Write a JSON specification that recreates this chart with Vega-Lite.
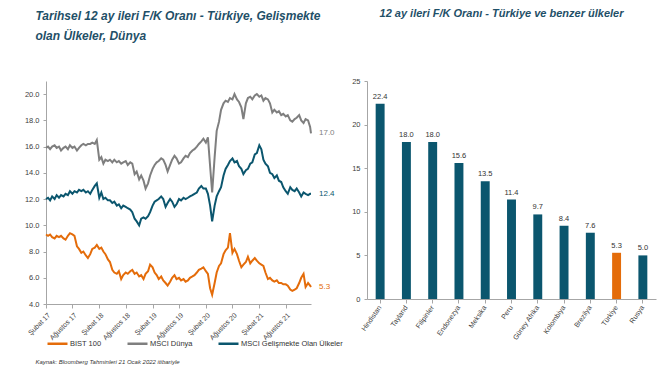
{
  "$schema": "https://vega.github.io/schema/vega-lite/v6.json",
  "padding": {"left": 24, "top": 8, "right": 6, "bottom": 2},
  "background": "white",
  "config": {
    "view": {"stroke": null},
    "font": "Liberation Sans",
    "axis": {"labelFont": "Liberation Sans", "labelFontSize": 7.5, "labelColor": "#404040", "domainColor": "#a6a6a6", "tickColor": "#a6a6a6", "grid": false, "title": null},
    "title": {"font": "Liberation Sans", "fontSize": 12, "fontWeight": "bold", "fontStyle": "italic", "color": "#1f5068"}
  },
  "title": {"text": "Kaynak: Bloomberg Tahminleri 21 Ocak 2022  itibariyle", "orient": "bottom", "anchor": "start", "fontSize": 6, "fontWeight": "normal", "fontStyle": "italic", "color": "#333333", "offset": 10, "dx": 11},
  "datasets": {
    "seri": [
      {"d":"2017-02-01","BIST 100":9.3,"MSCI Dünya":15.9,"MSCI Gelişmekte Olan Ülkeler":12.0},
      {"d":"2017-02-15","BIST 100":9.2,"MSCI Dünya":16.0,"MSCI Gelişmekte Olan Ülkeler":12.1},
      {"d":"2017-03-01","BIST 100":9.3,"MSCI Dünya":15.8,"MSCI Gelişmekte Olan Ülkeler":11.9},
      {"d":"2017-03-15","BIST 100":9.1,"MSCI Dünya":16.0,"MSCI Gelişmekte Olan Ülkeler":12.2},
      {"d":"2017-04-01","BIST 100":9.0,"MSCI Dünya":16.1,"MSCI Gelişmekte Olan Ülkeler":12.0},
      {"d":"2017-04-15","BIST 100":9.2,"MSCI Dünya":15.9,"MSCI Gelişmekte Olan Ülkeler":12.3},
      {"d":"2017-05-01","BIST 100":9.1,"MSCI Dünya":16.0,"MSCI Gelişmekte Olan Ülkeler":12.1},
      {"d":"2017-05-15","BIST 100":9.2,"MSCI Dünya":15.7,"MSCI Gelişmekte Olan Ülkeler":12.3},
      {"d":"2017-06-01","BIST 100":9.0,"MSCI Dünya":15.9,"MSCI Gelişmekte Olan Ülkeler":12.2},
      {"d":"2017-06-15","BIST 100":8.9,"MSCI Dünya":16.0,"MSCI Gelişmekte Olan Ülkeler":12.4},
      {"d":"2017-07-01","BIST 100":9.2,"MSCI Dünya":15.8,"MSCI Gelişmekte Olan Ülkeler":12.3},
      {"d":"2017-07-15","BIST 100":9.4,"MSCI Dünya":16.1,"MSCI Gelişmekte Olan Ülkeler":12.6},
      {"d":"2017-08-01","BIST 100":9.3,"MSCI Dünya":15.9,"MSCI Gelişmekte Olan Ülkeler":12.4},
      {"d":"2017-08-15","BIST 100":9.2,"MSCI Dünya":16.0,"MSCI Gelişmekte Olan Ülkeler":12.6},
      {"d":"2017-09-01","BIST 100":8.4,"MSCI Dünya":15.7,"MSCI Gelişmekte Olan Ülkeler":12.5},
      {"d":"2017-09-15","BIST 100":8.2,"MSCI Dünya":15.9,"MSCI Gelişmekte Olan Ülkeler":12.7},
      {"d":"2017-10-01","BIST 100":7.9,"MSCI Dünya":16.1,"MSCI Gelişmekte Olan Ülkeler":12.6},
      {"d":"2017-10-15","BIST 100":8.0,"MSCI Dünya":16.2,"MSCI Gelişmekte Olan Ülkeler":12.7},
      {"d":"2017-11-01","BIST 100":7.7,"MSCI Dünya":16.1,"MSCI Gelişmekte Olan Ülkeler":12.5},
      {"d":"2017-11-15","BIST 100":7.5,"MSCI Dünya":16.2,"MSCI Gelişmekte Olan Ülkeler":12.6},
      {"d":"2017-12-01","BIST 100":7.8,"MSCI Dünya":16.2,"MSCI Gelişmekte Olan Ülkeler":12.4},
      {"d":"2017-12-15","BIST 100":8.2,"MSCI Dünya":16.3,"MSCI Gelişmekte Olan Ülkeler":12.7},
      {"d":"2018-01-01","BIST 100":8.3,"MSCI Dünya":16.2,"MSCI Gelişmekte Olan Ülkeler":13.0},
      {"d":"2018-01-15","BIST 100":8.5,"MSCI Dünya":16.5,"MSCI Gelişmekte Olan Ülkeler":13.2},
      {"d":"2018-02-01","BIST 100":8.2,"MSCI Dünya":15.0,"MSCI Gelişmekte Olan Ülkeler":12.1},
      {"d":"2018-02-15","BIST 100":8.3,"MSCI Dünya":15.2,"MSCI Gelişmekte Olan Ülkeler":12.5},
      {"d":"2018-03-01","BIST 100":8.0,"MSCI Dünya":14.7,"MSCI Gelişmekte Olan Ülkeler":12.0},
      {"d":"2018-03-15","BIST 100":7.8,"MSCI Dünya":15.0,"MSCI Gelişmekte Olan Ülkeler":12.1},
      {"d":"2018-04-01","BIST 100":7.4,"MSCI Dünya":14.9,"MSCI Gelişmekte Olan Ülkeler":11.9},
      {"d":"2018-04-15","BIST 100":7.2,"MSCI Dünya":15.0,"MSCI Gelişmekte Olan Ülkeler":11.9},
      {"d":"2018-05-01","BIST 100":6.6,"MSCI Dünya":14.8,"MSCI Gelişmekte Olan Ülkeler":11.7},
      {"d":"2018-05-15","BIST 100":6.4,"MSCI Dünya":15.0,"MSCI Gelişmekte Olan Ülkeler":11.8},
      {"d":"2018-06-01","BIST 100":6.3,"MSCI Dünya":14.8,"MSCI Gelişmekte Olan Ülkeler":11.5},
      {"d":"2018-06-15","BIST 100":6.5,"MSCI Dünya":14.9,"MSCI Gelişmekte Olan Ülkeler":11.6},
      {"d":"2018-07-01","BIST 100":5.9,"MSCI Dünya":14.7,"MSCI Gelişmekte Olan Ülkeler":11.3},
      {"d":"2018-07-15","BIST 100":6.2,"MSCI Dünya":14.8,"MSCI Gelişmekte Olan Ülkeler":11.5},
      {"d":"2018-08-01","BIST 100":6.4,"MSCI Dünya":14.9,"MSCI Gelişmekte Olan Ülkeler":11.4},
      {"d":"2018-08-15","BIST 100":6.3,"MSCI Dünya":14.6,"MSCI Gelişmekte Olan Ülkeler":11.3},
      {"d":"2018-09-01","BIST 100":6.5,"MSCI Dünya":14.8,"MSCI Gelişmekte Olan Ülkeler":11.2},
      {"d":"2018-09-15","BIST 100":6.6,"MSCI Dünya":14.7,"MSCI Gelişmekte Olan Ülkeler":11.0},
      {"d":"2018-10-01","BIST 100":6.3,"MSCI Dünya":13.9,"MSCI Gelişmekte Olan Ülkeler":10.5},
      {"d":"2018-10-15","BIST 100":6.4,"MSCI Dünya":14.1,"MSCI Gelişmekte Olan Ülkeler":10.3},
      {"d":"2018-11-01","BIST 100":6.1,"MSCI Dünya":13.5,"MSCI Gelişmekte Olan Ülkeler":10.0},
      {"d":"2018-11-15","BIST 100":6.2,"MSCI Dünya":13.8,"MSCI Gelişmekte Olan Ülkeler":10.5},
      {"d":"2018-12-01","BIST 100":5.9,"MSCI Dünya":13.4,"MSCI Gelişmekte Olan Ülkeler":10.6},
      {"d":"2018-12-15","BIST 100":6.3,"MSCI Dünya":12.8,"MSCI Gelişmekte Olan Ülkeler":10.5},
      {"d":"2019-01-01","BIST 100":6.5,"MSCI Dünya":13.2,"MSCI Gelişmekte Olan Ülkeler":10.7},
      {"d":"2019-01-15","BIST 100":7.0,"MSCI Dünya":13.8,"MSCI Gelişmekte Olan Ülkeler":11.0},
      {"d":"2019-02-01","BIST 100":6.8,"MSCI Dünya":14.3,"MSCI Gelişmekte Olan Ülkeler":11.5},
      {"d":"2019-02-15","BIST 100":6.4,"MSCI Dünya":14.6,"MSCI Gelişmekte Olan Ülkeler":11.8},
      {"d":"2019-03-01","BIST 100":6.2,"MSCI Dünya":14.8,"MSCI Gelişmekte Olan Ülkeler":11.9},
      {"d":"2019-03-15","BIST 100":5.9,"MSCI Dünya":14.9,"MSCI Gelişmekte Olan Ülkeler":12.0},
      {"d":"2019-04-01","BIST 100":6.1,"MSCI Dünya":15.1,"MSCI Gelişmekte Olan Ülkeler":12.2},
      {"d":"2019-04-15","BIST 100":5.8,"MSCI Dünya":15.0,"MSCI Gelişmekte Olan Ülkeler":12.0},
      {"d":"2019-05-01","BIST 100":5.6,"MSCI Dünya":14.6,"MSCI Gelişmekte Olan Ülkeler":11.4},
      {"d":"2019-05-15","BIST 100":5.4,"MSCI Dünya":14.1,"MSCI Gelişmekte Olan Ülkeler":11.7},
      {"d":"2019-06-01","BIST 100":5.7,"MSCI Dünya":14.6,"MSCI Gelişmekte Olan Ülkeler":12.0},
      {"d":"2019-06-15","BIST 100":6.0,"MSCI Dünya":15.0,"MSCI Gelişmekte Olan Ülkeler":11.8},
      {"d":"2019-07-01","BIST 100":6.2,"MSCI Dünya":15.3,"MSCI Gelişmekte Olan Ülkeler":11.4},
      {"d":"2019-07-15","BIST 100":5.9,"MSCI Dünya":15.1,"MSCI Gelişmekte Olan Ülkeler":11.6},
      {"d":"2019-08-01","BIST 100":6.0,"MSCI Dünya":14.7,"MSCI Gelişmekte Olan Ülkeler":12.0},
      {"d":"2019-08-15","BIST 100":5.8,"MSCI Dünya":14.8,"MSCI Gelişmekte Olan Ülkeler":11.9},
      {"d":"2019-09-01","BIST 100":5.9,"MSCI Dünya":15.1,"MSCI Gelişmekte Olan Ülkeler":12.1},
      {"d":"2019-09-15","BIST 100":5.7,"MSCI Dünya":15.3,"MSCI Gelişmekte Olan Ülkeler":12.0},
      {"d":"2019-10-01","BIST 100":5.8,"MSCI Dünya":15.2,"MSCI Gelişmekte Olan Ülkeler":12.1},
      {"d":"2019-10-15","BIST 100":6.0,"MSCI Dünya":15.5,"MSCI Gelişmekte Olan Ülkeler":12.2},
      {"d":"2019-11-01","BIST 100":6.1,"MSCI Dünya":15.7,"MSCI Gelişmekte Olan Ülkeler":12.3},
      {"d":"2019-11-15","BIST 100":6.2,"MSCI Dünya":15.8,"MSCI Gelişmekte Olan Ülkeler":12.4},
      {"d":"2019-12-01","BIST 100":6.4,"MSCI Dünya":16.0,"MSCI Gelişmekte Olan Ülkeler":12.5},
      {"d":"2019-12-15","BIST 100":6.6,"MSCI Dünya":16.2,"MSCI Gelişmekte Olan Ülkeler":12.8},
      {"d":"2020-01-01","BIST 100":6.7,"MSCI Dünya":16.4,"MSCI Gelişmekte Olan Ülkeler":13.0},
      {"d":"2020-01-15","BIST 100":6.8,"MSCI Dünya":16.6,"MSCI Gelişmekte Olan Ülkeler":12.8},
      {"d":"2020-02-01","BIST 100":6.5,"MSCI Dünya":16.3,"MSCI Gelişmekte Olan Ülkeler":12.8},
      {"d":"2020-02-15","BIST 100":6.3,"MSCI Dünya":16.7,"MSCI Gelişmekte Olan Ülkeler":12.4},
      {"d":"2020-03-01","BIST 100":5.2,"MSCI Dünya":14.5,"MSCI Gelişmekte Olan Ülkeler":11.5},
      {"d":"2020-03-15","BIST 100":4.7,"MSCI Dünya":12.5,"MSCI Gelişmekte Olan Ülkeler":10.3},
      {"d":"2020-04-01","BIST 100":5.6,"MSCI Dünya":15.2,"MSCI Gelişmekte Olan Ülkeler":11.5},
      {"d":"2020-04-15","BIST 100":6.4,"MSCI Dünya":17.2,"MSCI Gelişmekte Olan Ülkeler":12.2},
      {"d":"2020-05-01","BIST 100":6.9,"MSCI Dünya":17.9,"MSCI Gelişmekte Olan Ülkeler":12.6},
      {"d":"2020-05-15","BIST 100":7.1,"MSCI Dünya":18.8,"MSCI Gelişmekte Olan Ülkeler":12.9},
      {"d":"2020-06-01","BIST 100":7.8,"MSCI Dünya":19.3,"MSCI Gelişmekte Olan Ülkeler":13.8},
      {"d":"2020-06-15","BIST 100":8.1,"MSCI Dünya":19.5,"MSCI Gelişmekte Olan Ülkeler":14.3},
      {"d":"2020-07-01","BIST 100":8.3,"MSCI Dünya":19.4,"MSCI Gelişmekte Olan Ülkeler":14.6},
      {"d":"2020-07-15","BIST 100":9.4,"MSCI Dünya":19.7,"MSCI Gelişmekte Olan Ülkeler":14.9},
      {"d":"2020-08-01","BIST 100":7.9,"MSCI Dünya":19.6,"MSCI Gelişmekte Olan Ülkeler":15.1},
      {"d":"2020-08-15","BIST 100":8.2,"MSCI Dünya":20.0,"MSCI Gelişmekte Olan Ülkeler":14.8},
      {"d":"2020-09-01","BIST 100":7.8,"MSCI Dünya":19.6,"MSCI Gelişmekte Olan Ülkeler":14.9},
      {"d":"2020-09-15","BIST 100":7.3,"MSCI Dünya":19.4,"MSCI Gelişmekte Olan Ülkeler":14.5},
      {"d":"2020-10-01","BIST 100":6.8,"MSCI Dünya":19.0,"MSCI Gelişmekte Olan Ülkeler":14.3},
      {"d":"2020-10-15","BIST 100":7.0,"MSCI Dünya":18.1,"MSCI Gelişmekte Olan Ülkeler":13.9},
      {"d":"2020-11-01","BIST 100":7.2,"MSCI Dünya":19.3,"MSCI Gelişmekte Olan Ülkeler":14.2},
      {"d":"2020-11-15","BIST 100":7.6,"MSCI Dünya":19.7,"MSCI Gelişmekte Olan Ülkeler":14.3},
      {"d":"2020-12-01","BIST 100":7.1,"MSCI Dünya":19.8,"MSCI Gelişmekte Olan Ülkeler":14.7},
      {"d":"2020-12-15","BIST 100":7.3,"MSCI Dünya":19.6,"MSCI Gelişmekte Olan Ülkeler":14.8},
      {"d":"2021-01-01","BIST 100":7.5,"MSCI Dünya":19.9,"MSCI Gelişmekte Olan Ülkeler":15.4},
      {"d":"2021-01-15","BIST 100":7.3,"MSCI Dünya":20.0,"MSCI Gelişmekte Olan Ülkeler":15.5},
      {"d":"2021-02-01","BIST 100":7.1,"MSCI Dünya":19.8,"MSCI Gelişmekte Olan Ülkeler":16.1},
      {"d":"2021-02-15","BIST 100":7.0,"MSCI Dünya":19.9,"MSCI Gelişmekte Olan Ülkeler":15.8},
      {"d":"2021-03-01","BIST 100":6.9,"MSCI Dünya":19.5,"MSCI Gelişmekte Olan Ülkeler":15.0},
      {"d":"2021-03-15","BIST 100":6.4,"MSCI Dünya":19.7,"MSCI Gelişmekte Olan Ülkeler":14.7},
      {"d":"2021-04-01","BIST 100":5.9,"MSCI Dünya":19.6,"MSCI Gelişmekte Olan Ülkeler":14.5},
      {"d":"2021-04-15","BIST 100":6.0,"MSCI Dünya":19.3,"MSCI Gelişmekte Olan Ülkeler":14.0},
      {"d":"2021-05-01","BIST 100":5.8,"MSCI Dünya":18.6,"MSCI Gelişmekte Olan Ülkeler":13.9},
      {"d":"2021-05-15","BIST 100":5.7,"MSCI Dünya":18.8,"MSCI Gelişmekte Olan Ülkeler":13.6},
      {"d":"2021-06-01","BIST 100":5.8,"MSCI Dünya":18.6,"MSCI Gelişmekte Olan Ülkeler":13.8},
      {"d":"2021-06-15","BIST 100":5.6,"MSCI Dünya":18.7,"MSCI Gelişmekte Olan Ülkeler":13.4},
      {"d":"2021-07-01","BIST 100":5.6,"MSCI Dünya":18.4,"MSCI Gelişmekte Olan Ülkeler":13.3},
      {"d":"2021-07-15","BIST 100":5.5,"MSCI Dünya":18.5,"MSCI Gelişmekte Olan Ülkeler":12.9},
      {"d":"2021-08-01","BIST 100":5.5,"MSCI Dünya":18.3,"MSCI Gelişmekte Olan Ülkeler":12.6},
      {"d":"2021-08-15","BIST 100":5.4,"MSCI Dünya":18.4,"MSCI Gelişmekte Olan Ülkeler":12.4},
      {"d":"2021-09-01","BIST 100":5.1,"MSCI Dünya":18.0,"MSCI Gelişmekte Olan Ülkeler":12.9},
      {"d":"2021-09-15","BIST 100":5.0,"MSCI Dünya":17.9,"MSCI Gelişmekte Olan Ülkeler":12.7},
      {"d":"2021-10-01","BIST 100":5.1,"MSCI Dünya":18.1,"MSCI Gelişmekte Olan Ülkeler":12.6},
      {"d":"2021-10-15","BIST 100":5.2,"MSCI Dünya":18.2,"MSCI Gelişmekte Olan Ülkeler":12.8},
      {"d":"2021-11-01","BIST 100":5.6,"MSCI Dünya":18.4,"MSCI Gelişmekte Olan Ülkeler":12.5},
      {"d":"2021-11-15","BIST 100":6.0,"MSCI Dünya":18.0,"MSCI Gelişmekte Olan Ülkeler":12.2},
      {"d":"2021-12-01","BIST 100":6.3,"MSCI Dünya":17.8,"MSCI Gelişmekte Olan Ülkeler":12.5},
      {"d":"2021-12-15","BIST 100":5.3,"MSCI Dünya":18.1,"MSCI Gelişmekte Olan Ülkeler":12.4},
      {"d":"2022-01-01","BIST 100":5.6,"MSCI Dünya":18.0,"MSCI Gelişmekte Olan Ülkeler":12.3},
      {"d":"2022-01-15","BIST 100":5.4,"MSCI Dünya":17.5,"MSCI Gelişmekte Olan Ülkeler":12.4},
      {"d":"2022-01-21","BIST 100":5.3,"MSCI Dünya":17.0,"MSCI Gelişmekte Olan Ülkeler":12.4}
    ],
    "ulke": [
      {"u":"Hindistan","v":22.4},
      {"u":"Tayland","v":18.0},
      {"u":"Filipinler","v":18.0},
      {"u":"Endonezya","v":15.6},
      {"u":"Meksika","v":13.5},
      {"u":"Peru","v":11.4},
      {"u":"Güney Afrika","v":9.7},
      {"u":"Kolombiya","v":8.4},
      {"u":"Brezilya","v":7.6},
      {"u":"Türkiye","v":5.3},
      {"u":"Rusya","v":5.0}
    ]
  },
  "hconcat": [
    {
      "title": {"text": ["Tarihsel 12 ay ileri F/K Oranı -  Türkiye, Gelişmekte", "olan Ülkeler, Dünya"], "anchor": "start", "lineHeight": 20, "offset": 38, "dx": 11},
      "width": 265,
      "height": 223,
      "data": {"name": "seri"},
      "transform": [
        {"fold": ["BIST 100", "MSCI Dünya", "MSCI Gelişmekte Olan Ülkeler"], "as": ["s", "v"]}
      ],
      "encoding": {
        "x": {"field": "d", "type": "temporal",
              "scale": {"type": "utc", "domain": [{"year": 2017, "month": 2, "date": 1, "utc": true}, {"year": 2022, "month": 1, "date": 21, "utc": true}]},
              "axis": {"values": [
                {"year": 2017, "month": 2, "date": 1, "utc": true}, {"year": 2017, "month": 8, "date": 1, "utc": true},
                {"year": 2018, "month": 2, "date": 1, "utc": true}, {"year": 2018, "month": 8, "date": 1, "utc": true},
                {"year": 2019, "month": 2, "date": 1, "utc": true}, {"year": 2019, "month": 8, "date": 1, "utc": true},
                {"year": 2020, "month": 2, "date": 1, "utc": true}, {"year": 2020, "month": 8, "date": 1, "utc": true},
                {"year": 2021, "month": 2, "date": 1, "utc": true}, {"year": 2021, "month": 8, "date": 1, "utc": true}],
                "labelExpr": "(utcmonth(datum.value) == 1 ? 'Şubat ' : 'Ağustos ') + utcFormat(datum.value, '%y')",
                "labelAngle": -45, "labelFontSize": 7, "tickSize": 4, "labelPadding": 3, "labelFlush": false, "labelOverlap": false}},
        "y": {"field": "v", "type": "quantitative",
              "scale": {"domain": [4, 21], "nice": false, "zero": false},
              "axis": {"values": [4, 6, 8, 10, 12, 14, 16, 18, 20], "format": ".1f", "tickSize": 3, "labelPadding": 4}},
        "color": {"field": "s", "type": "nominal",
                  "scale": {"domain": ["BIST 100", "MSCI Dünya", "MSCI Gelişmekte Olan Ülkeler"], "range": ["#e46c0a", "#7f7f7f", "#0b566e"]},
                  "legend": {"orient": "bottom", "direction": "horizontal", "title": null, "symbolType": "stroke", "symbolStrokeWidth": 2.5, "symbolSize": 400, "labelFontSize": 7.5, "labelColor": "#333333", "columnPadding": 20, "offset": -9, "labelOffset": 1}}
      },
      "layer": [
        {"mark": {"type": "line", "strokeWidth": 2, "interpolate": "linear"}},
        {"transform": [{"filter": "time(toDate(datum.d)) == utc(2022,0,21)"}],
         "mark": {"type": "text", "align": "left", "dx": 8, "fontSize": 8, "baseline": "middle"},
         "encoding": {"text": {"field": "v", "type": "quantitative", "format": ".1f"}}}
      ]
    },
    {
      "title": {"text": "12 ay ileri F/K Oranı -  Türkiye ve benzer ülkeler", "anchor": "middle", "offset": 58, "fontSize": 11, "dx": -10},
      "width": 289,
      "height": 218,
      "data": {"name": "ulke"},
      "encoding": {
        "x": {"field": "u", "type": "nominal", "sort": null,
              "scale": {"paddingInner": 0.66, "paddingOuter": 0.33},
              "axis": {"labelAngle": -55, "labelFontSize": 7, "tickSize": 4, "labelPadding": 3, "ticks": true}},
        "y": {"field": "v", "type": "quantitative",
              "scale": {"domain": [0, 25], "nice": false},
              "axis": {"values": [0, 5, 10, 15, 20, 25], "tickSize": 3, "labelPadding": 4}}
      },
      "layer": [
        {"mark": {"type": "bar"},
         "encoding": {"color": {"condition": {"test": "datum.u == 'Türkiye'", "value": "#e46c0a"}, "value": "#0b566e"}}},
        {"mark": {"type": "text", "dy": -7, "fontSize": 7.5, "color": "#333333"},
         "encoding": {"text": {"field": "v", "type": "quantitative", "format": ".1f"}}}
      ]
    }
  ],
  "spacing": 16
}
